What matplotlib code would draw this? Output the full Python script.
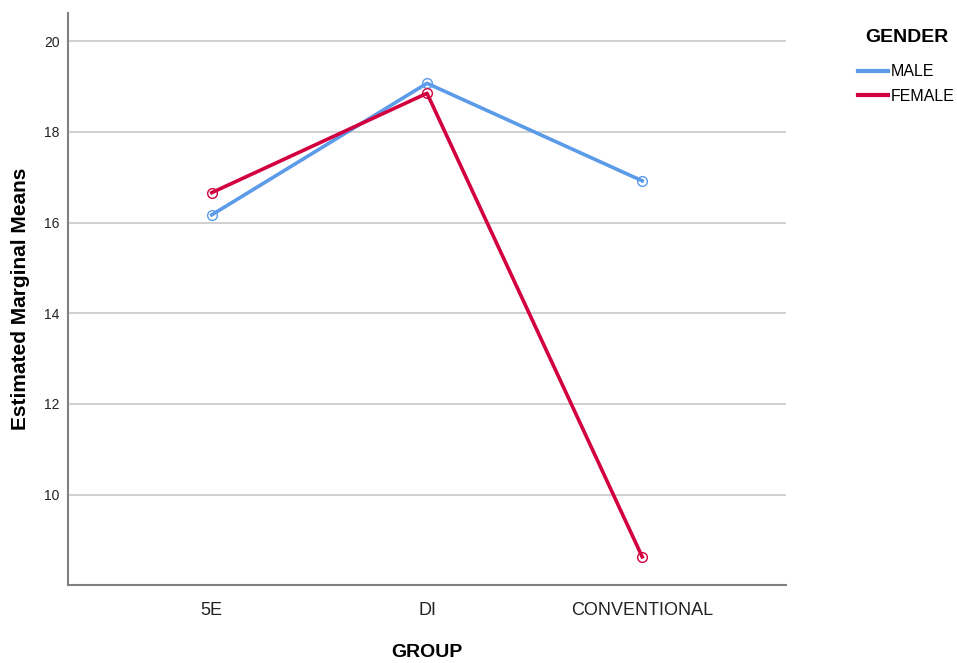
import matplotlib
matplotlib.use('Agg')
import matplotlib.pyplot as plt
from matplotlib.lines import Line2D

plt.rcParams['font.family'] = ['Liberation Sans', 'DejaVu Sans']

# estimated marginal means
groups = ['5E', 'DI', 'CONVENTIONAL']
male = [16.17, 19.07, 16.92]
female = [16.66, 18.85, 8.63]
y_ticks = [10, 12, 14, 16, 18, 20]
legend_labels = ['MALE', 'FEMALE']

blue = '#5b9be8'
red = '#d3003f'

fig = plt.figure(figsize=(9.57, 6.63), dpi=100)
ax = fig.add_axes([0.0711, 0.1170, 0.7502, 0.8634])

x = list(range(len(groups)))
ax.plot(x, male, color=blue, lw=2.6, marker='o', ms=7, mfc='none',
        mec=blue, mew=1.0, zorder=3)
ax.plot(x, female, color=red, lw=2.6, marker='o', ms=7, mfc='none',
        mec=red, mew=1.0, zorder=4)

ax.set_xlim(-0.668, 2.668)
ax.set_ylim(8.0, 20.62)
ax.set_xticks(x)
ax.set_xticklabels(groups, fontsize=13, color='#222222')
ax.set_yticks(y_ticks)
ax.set_yticklabels([str(t) for t in y_ticks], fontsize=10, color='#222222')
ax.tick_params(axis='y', length=0, pad=6)
ax.tick_params(axis='x', length=0, pad=12)

ax.grid(axis='y', color='#c8c8c8', lw=1.2)
ax.set_axisbelow(True)
for side in ['top', 'right']:
    ax.spines[side].set_visible(False)
for side in ['left', 'bottom']:
    ax.spines[side].set_color('#808080')
    ax.spines[side].set_linewidth(1.5)

ax.set_xlabel('GROUP', fontsize=14, fontweight='bold', labelpad=18)
ax.set_ylabel('Estimated Marginal Means', fontsize=15, fontweight='bold',
              labelpad=10)

# legend: title placed on its own, entries below it
fig.text(0.904, 0.943, 'GENDER', fontsize=14, fontweight='bold',
         ha='left', va='center')
handles = [Line2D([], [], color=blue, lw=3),
           Line2D([], [], color=red, lw=3)]
fig.legend(handles, legend_labels, loc='upper left',
           bbox_to_anchor=(0.885, 0.920), frameon=False,
           fontsize=11.5, handlelength=1.9, handletextpad=0.15,
           labelspacing=0.6, borderpad=0.2)

fig.savefig('out.png', dpi=100, facecolor='white')
